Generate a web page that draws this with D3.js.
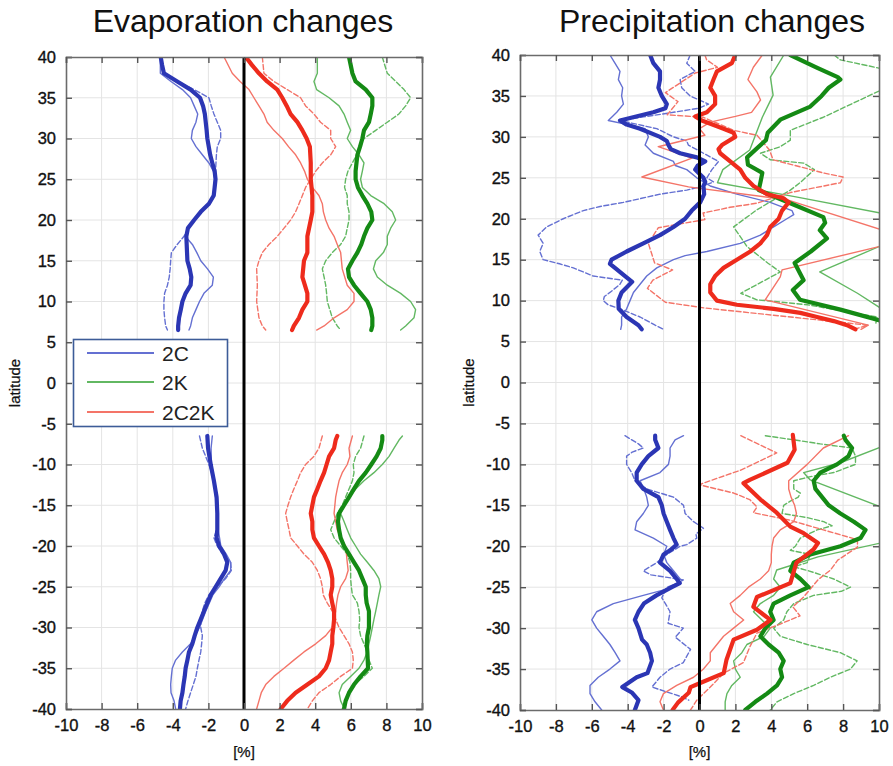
<!DOCTYPE html>
<html><head><meta charset="utf-8">
<script src="https://cdn.jsdelivr.net/npm/d3@7"></script>
<style>body{margin:0;background:#fff;} svg{display:block;font-family:"Liberation Sans",Arial,sans-serif;}</style>
</head><body><div id="chart"></div>
<script>
// ---------- tick labels ----------
const xTicks = [-10,-8,-6,-4,-2,0,2,4,6,8,10];
const yTicks = [40,35,30,25,20,15,10,5,0,-5,-10,-15,-20,-25,-30,-35,-40];
const panelTitles = ["Evaporation changes","Precipitation changes"];
const legendLabels = ["2C","2K","2C2K"];

// ---------- Evaporation: [latitude, % change] ----------
const E_2C_thick_N = [[40,-4.68],[39,-4.6],[38,-4.5],[37,-3.75],[36,-3.0],[35,-2.47],[34,-2.3],[33,-2.2],[31,-2.1],[30,-2.06],[28,-1.9],[27,-1.78],[26,-1.65],[25,-1.6],[24,-1.65],[23,-1.7],[22,-1.97],[21,-2.43],[20,-2.8],[19,-3.15],[18,-3.24],[17,-3.22],[16,-3.2],[15,-3.18],[14,-3.05],[13,-2.96],[12,-3.0],[11,-3.28],[10,-3.46],[9,-3.55],[8,-3.65],[7,-3.7],[6.5,-3.7]];
const E_2C_thin_N = [[40,-4.7],[38,-4.7],[37,-4.1],[36,-3.46],[35,-3.0],[34,-2.8],[33,-2.6],[32,-2.7],[31,-2.9],[30,-2.96],[29,-2.7],[28,-2.34],[27,-1.97],[26,-1.72],[25,-1.63],[24,-1.66],[23,-1.72],[22,-2.0],[21,-2.45],[20,-2.82],[19,-3.15],[18,-3.3],[17,-2.9],[16,-2.65],[15,-2.43],[14,-2.05],[13,-1.72],[12,-1.78],[11,-2.25],[10,-2.5],[9,-2.7],[8,-2.9],[7,-3.0],[6.5,-3.09]];
const E_2C_dash_N = [[40,-4.7],[38,-4.5],[37,-3.75],[36,-2.8],[35,-1.97],[34,-1.84],[33,-1.69],[32,-1.5],[31,-1.31],[30,-1.31],[29,-1.5],[28,-1.55],[26,-1.6],[25,-1.65],[23,-1.7],[22,-1.97],[21,-2.4],[20,-2.8],[19,-3.1],[18,-3.37],[17,-3.75],[16,-4.08],[15,-4.12],[14,-4.15],[13,-4.2],[12,-4.3],[11,-4.46],[10,-4.5],[9,-4.5],[8,-4.46],[7,-4.4],[6.5,-4.3]];
const E_2C_thick_S = [[-6.5,-2.06],[-8,-2.02],[-10,-1.87],[-12,-1.69],[-14,-1.54],[-16,-1.5],[-18,-1.5],[-19,-1.54],[-20,-1.4],[-21,-1.12],[-22,-0.94],[-23,-1.03],[-24,-1.31],[-25,-1.59],[-26,-1.87],[-27,-2.06],[-28,-2.25],[-29,-2.43],[-30,-2.62],[-31,-2.77],[-32,-2.9],[-33,-3.09],[-34,-3.18],[-35,-3.28],[-36,-3.33],[-37,-3.4],[-38,-3.46],[-39,-3.56],[-40,-3.6]];
const E_2C_thin_S = [[-6.5,-1.78],[-8,-1.85],[-10,-1.83],[-12,-1.65],[-14,-1.5],[-16,-1.45],[-18,-1.45],[-20,-1.3],[-21,-1.0],[-22,-0.75],[-23,-0.75],[-24,-1.1],[-25,-1.4],[-26,-1.75],[-28,-2.15],[-30,-2.5],[-31,-2.75],[-32,-3.0],[-33,-3.46],[-34,-3.84],[-35,-4.03],[-36,-4.08],[-37,-4.12],[-38,-4.1],[-39,-3.93],[-40,-3.84]];
const E_2C_dash_S = [[-6.5,-2.5],[-8,-2.34],[-10,-1.97],[-12,-1.69],[-14,-1.6],[-16,-1.5],[-18,-1.54],[-19,-1.69],[-20,-1.5],[-21,-1.2],[-22,-0.75],[-23,-0.71],[-24,-1.03],[-25,-1.5],[-26,-1.97],[-27,-2.2],[-28,-2.34],[-29,-2.43],[-30,-2.43],[-31,-2.34],[-32,-2.38],[-33,-2.43],[-34,-2.53],[-35,-2.62],[-36,-2.7],[-37,-2.85],[-38,-3.0],[-39,-3.15],[-40,-3.28]];
const E_2K_thick_N = [[40,5.9],[38,6.09],[37,6.27],[36,6.84],[35,7.21],[34,7.21],[33,7.12],[32,7.02],[31,6.74],[30,6.65],[29,6.52],[28,6.37],[26,6.27],[25,6.27],[24,6.4],[23,6.65],[22,6.93],[21,7.15],[20,7.21],[19,6.93],[18,6.74],[17,6.59],[16,6.37],[15,6.09],[14,5.84],[13,5.9],[12,6.18],[11,6.55],[10,6.93],[9,7.12],[8,7.21],[7,7.21],[6.5,7.15]];
const E_2K_thin_N = [[40,4.12],[38,4.12],[37,3.93],[36,4.08],[35,4.78],[34,5.34],[33,5.62],[32,5.8],[31,5.99],[30,5.8],[29,6.09],[28,6.46],[27,6.74],[26,6.65],[25,6.55],[24,6.65],[23,7.12],[22,7.87],[21,8.33],[20,8.52],[19,8.24],[18,8.05],[17,8.05],[16,7.83],[15,7.4],[14,7.27],[13,7.49],[12,8.05],[11,8.8],[10,9.36],[9,9.64],[8,9.55],[7,9.08],[6.5,8.8]];
const E_2K_dash_N = [[40,7.77],[38,8.05],[37,8.52],[36,8.99],[35,9.36],[34,9.08],[33,8.7],[32,8.05],[31,7.4],[30,6.74],[29,6.46],[28,6.33],[27,6.09],[26,5.84],[25,5.71],[24,5.65],[23,5.8],[22,5.8],[21,5.9],[20,5.9],[19,5.8],[18,5.71],[17,5.43],[16,4.96],[15,4.59],[14,4.4],[13,4.5],[12,4.59],[11,4.64],[10,4.68],[8,4.96],[7,5.24],[6.5,5.43]];
const E_2K_thick_S = [[-6.5,7.77],[-7,7.77],[-8,7.68],[-9,7.45],[-10,7.15],[-11,6.84],[-12,6.46],[-13,6.18],[-14,5.9],[-15,5.62],[-16,5.34],[-17,5.28],[-18,5.34],[-19,5.43],[-20,5.62],[-21,5.9],[-22,6.18],[-23,6.46],[-24,6.65],[-25,6.84],[-26,6.84],[-27,6.89],[-28,7.02],[-29,7.02],[-30,7.02],[-31,6.93],[-32,6.9],[-33,6.93],[-34,6.95],[-35,6.97],[-36,6.55],[-37,6.18],[-38,5.9],[-39,5.71],[-40,5.62]];
const E_2K_thin_S = [[-6.5,8.9],[-7,8.71],[-8,8.43],[-9,8.15],[-10,7.77],[-11,7.3],[-12,6.74],[-13,6.27],[-14,5.9],[-15,5.62],[-16,5.43],[-17,5.62],[-18,5.8],[-19,5.99],[-20,6.27],[-21,6.55],[-22,6.93],[-23,7.3],[-24,7.58],[-25,7.68],[-26,7.58],[-27,7.49],[-28,7.4],[-29,7.3],[-30,7.21],[-31,7.12],[-32,7.02],[-33,6.93],[-34,6.74],[-35,6.46],[-36,5.99],[-37,5.52],[-38,5.34],[-39,5.43],[-40,5.65]];
const E_2K_dash_S = [[-6.5,6.74],[-8,6.55],[-9,6.27],[-10,6.14],[-11,6.18],[-12,6.09],[-13,5.9],[-14,5.71],[-15,5.52],[-16,5.24],[-17,5.06],[-18,4.87],[-19,5.06],[-20,5.43],[-21,5.8],[-22,5.95],[-23,5.99],[-24,5.99],[-25,6.03],[-26,6.09],[-27,6.37],[-28,6.46],[-29,6.5],[-30,6.46],[-31,6.55],[-32,6.74],[-33,6.93],[-34,7.02],[-35,7.21],[-36,6.74],[-37,6.18],[-38,5.9],[-39,5.71],[-40,5.52]];
const E_2C2K_thick_N = [[40,0.1],[39,0.45],[38,0.84],[37,1.3],[36,1.87],[35,2.15],[34,2.4],[33,2.62],[32,3.0],[31,3.28],[30,3.52],[29,3.7],[27,3.75],[25,3.75],[23,3.84],[21,3.84],[20,3.75],[18,3.56],[16,3.56],[15,3.37],[13,3.28],[12,3.42],[11,3.56],[10,3.56],[9,3.28],[8,3.09],[7,2.8],[6.5,2.7]];
const E_2C2K_thin_N = [[40,-1.12],[38,-0.66],[37,-0.22],[36,0.28],[35,0.56],[34,0.84],[33,1.12],[32,1.3],[31,1.68],[30,2.15],[29,2.5],[28,2.9],[27,3.18],[26,3.4],[25,3.56],[24,3.84],[23,4.21],[22,4.4],[21,4.46],[20,4.59],[19,4.78],[18,5.06],[17,5.24],[16,5.43],[14,5.52],[12,5.8],[11,6.18],[10,6.18],[9,5.8],[8,5.06],[7,4.5],[6.5,4.08]];
const E_2C2K_dash_N = [[40,1.03],[38,1.12],[37,1.68],[36,2.43],[35,3.18],[34,3.46],[33,3.93],[32,4.3],[31,4.87],[30,4.87],[29,5.15],[28,4.87],[27,4.4],[26,4.03],[25,3.75],[24,3.46],[23,3.28],[22,3.09],[21,2.9],[20,2.62],[19,2.25],[18,1.87],[17,1.4],[16,1.03],[15,0.84],[14,0.71],[12,0.75],[10,0.71],[8,0.84],[7,1.03],[6.5,1.22]];
const E_2C2K_thick_S = [[-6.5,5.24],[-7,5.15],[-8,5.06],[-9,4.78],[-10,4.64],[-11,4.5],[-12,4.3],[-13,4.12],[-14,3.93],[-15,3.84],[-16,3.75],[-17,3.84],[-18,3.84],[-19,3.93],[-20,4.21],[-21,4.5],[-22,4.72],[-23,4.87],[-24,4.96],[-25,4.96],[-26,4.87],[-27,4.96],[-28,5.06],[-29,5.06],[-30,5.02],[-31,4.96],[-32,4.96],[-33,4.87],[-34,4.78],[-35,4.59],[-36,4.21],[-37,3.56],[-38,2.9],[-39,2.43],[-40,2.06]];
const E_2C2K_thin_S = [[-6.5,6.09],[-8,5.9],[-9,5.95],[-10,5.8],[-11,5.52],[-12,5.34],[-13,5.24],[-14,5.15],[-16,5.06],[-18,5.24],[-19,5.43],[-20,5.71],[-22,5.8],[-23,5.85],[-24,5.71],[-25,5.43],[-26,5.28],[-27,5.2],[-28,5.15],[-29,5.06],[-30,4.96],[-31,4.59],[-32,4.03],[-33,3.37],[-34,2.8],[-35,2.25],[-36,1.68],[-37,1.22],[-38,0.97],[-39,0.84],[-40,0.71]];
const E_2C2K_dash_S = [[-6.5,4.4],[-8,4.21],[-9,3.93],[-10,3.46],[-11,3.18],[-12,3.0],[-13,2.8],[-14,2.62],[-15,2.47],[-16,2.34],[-17,2.43],[-18,2.53],[-19,2.62],[-20,3.0],[-21,3.37],[-22,3.84],[-23,4.12],[-24,4.3],[-25,4.4],[-26,4.45],[-27,4.68],[-28,4.96],[-29,5.15],[-30,5.34],[-31,5.62],[-32,5.9],[-33,6.09],[-34,6.14],[-35,6.09],[-36,5.43],[-37,4.87],[-38,4.21],[-39,3.84],[-40,3.56]];

// ---------- Precipitation: [latitude, % change] ----------
const P_2C_thick_N = [[40,-2.75],[39,-2.57],[38,-2.2],[37,-2.2],[36,-2.29],[35,-2.1],[34,-1.82],[33.5,-1.9],[33,-2.57],[32,-4.43],[31.5,-4.06],[31,-3.31],[30,-2.2],[29.5,-1.82],[29,-1.73],[28.5,-1.6],[28,-1.08],[27.5,-0.15],[27,0.32],[26.5,-0.1],[26,-0.24],[25,0.22],[24.5,0.32],[24,0.22],[23,0.26],[22,0.04],[21,-0.43],[20,-0.8],[19,-1.45],[18,-2.2],[17,-3.13],[16,-4.06],[15,-4.9],[14.5,-4.99],[14,-4.71],[13,-4.15],[12.3,-3.75],[11,-4.34],[10,-4.52],[9,-4.5],[8,-4.06],[7,-3.4],[6.5,-3.22]];
const P_2C_thin_N = [[40,-4.99],[39,-4.71],[38,-4.43],[37,-4.52],[36,-4.28],[35,-4.34],[34,-4.24],[33,-4.61],[32,-5.08],[31.5,-4.0],[31,-3.03],[30,-2.85],[29,-3.03],[28,-2.57],[27,-1.45],[26.5,-1.35],[26,-0.71],[25,-0.15],[24,0.6],[23,2.08],[22,3.94],[21,5.15],[20.5,5.25],[20,4.87],[19,4.13],[18,3.39],[17,2.27],[16,0.41],[15.5,-0.8],[15,-1.45],[14,-2.38],[13,-2.94],[12,-3.31],[11,-3.68],[10,-3.87],[9,-4.06],[8,-4.34],[7,-4.34],[6.5,-4.39]];
const P_2C_dash_N = [[40,-0.52],[39,-0.71],[38,-0.24],[37,-1.08],[36,-0.99],[35,-0.52],[34,0.5],[33.5,-0.05],[33,-1.45],[32,-4.43],[31,-2.38],[30,-1.45],[29.5,-0.71],[29,-0.62],[28,0.22],[27,1.06],[26,0.69],[25,0.41],[24.5,0.78],[24,0.22],[23.5,-0.71],[23,-2.2],[22,-4.24],[21.5,-5.54],[21,-6.47],[20,-7.59],[19,-8.52],[18,-8.99],[17,-8.71],[16,-8.9],[15,-8.71],[14.5,-7.8],[14,-7.03],[13,-5.92],[12.5,-4.3],[12,-4.43],[11,-4.99],[10.5,-5.3],[10,-5.36],[9.5,-5.1],[9,-4.43],[8,-3.31],[7,-2.47],[6.5,-2.01]];
const P_2C_thick_S = [[-6.5,-2.47],[-7,-2.47],[-8,-2.29],[-9,-2.85],[-10,-3.22],[-11,-3.5],[-12,-3.5],[-13,-3.13],[-14,-2.29],[-15,-2.1],[-16,-2.0],[-17,-1.82],[-18,-1.64],[-19,-1.45],[-19.8,-1.27],[-20.5,-1.64],[-21,-2.0],[-22,-2.2],[-23,-1.64],[-24,-1.27],[-24.5,-1.1],[-25,-1.54],[-26,-2.4],[-27,-3.1],[-28,-3.4],[-29,-3.6],[-30,-3.4],[-31.4,-3.2],[-32,-2.94],[-33,-2.75],[-34,-2.65],[-35.5,-2.9],[-36,-3.5],[-37.2,-4.3],[-37.9,-3.75],[-38.8,-3.4],[-40,-3.6]];
const P_2C_thin_S = [[-6.5,-0.89],[-7,-1.36],[-8,-1.64],[-9,-1.64],[-10,-1.73],[-11,-2.2],[-12,-3.31],[-13,-3.1],[-14,-2.94],[-15,-2.85],[-16,-3.13],[-17,-3.5],[-18,-3.59],[-19,-2.57],[-20,-1.82],[-21,-2.0],[-22,-1.82],[-23,-1.45],[-24,-1.08],[-25,-1.4],[-26,-3.13],[-27,-4.8],[-28,-5.73],[-29,-6.0],[-30,-5.73],[-31,-5.36],[-32,-4.99],[-33,-4.7],[-34,-4.43],[-35,-4.99],[-36,-5.64],[-37,-6.1],[-38,-6.1],[-39,-5.82],[-40,-5.45]];
const P_2C_dash_S = [[-6.5,-4.15],[-7.5,-3.4],[-8,-3.13],[-8.5,-3.75],[-9,-4.06],[-10,-4.06],[-11,-3.78],[-12,-3.59],[-13,-2.94],[-14,-1.45],[-15,-0.89],[-16,-0.8],[-17,-0.33],[-17.8,0.22],[-18.5,-0.2],[-19,-0.15],[-19.8,-0.71],[-20,-1.08],[-21,-1.82],[-22,-2.38],[-23,-3.13],[-23.5,-2.7],[-24.1,-0.9],[-24.5,-1.2],[-25,-1.82],[-26.3,-2.1],[-27,-1.9],[-28,-1.64],[-29.4,-1.75],[-30,-0.9],[-31.1,-1.35],[-32.6,-0.5],[-34.2,-0.9],[-35,-1.64],[-36,-2.2],[-37.2,-2.65],[-38.4,-0.97],[-38.8,-0.6]];
const P_2K_thick_N = [[40,5.06],[38.5,6.5],[37.3,7.7],[37,7.85],[36,7.2],[35,6.8],[33.7,6.17],[32.1,4.5],[30.5,3.8],[29.6,3.7],[27.5,2.65],[26.6,2.7],[25.6,3.5],[24.5,3.4],[23.5,3.3],[21.9,5.06],[20.2,6.9],[19.5,7.0],[18.6,6.7],[17.6,7.1],[16,6.2],[14.6,5.3],[12.5,5.8],[11.3,5.2],[10.1,5.6],[8.9,7.85],[7.6,10.0],[6.8,11]];
const P_2K_thin_N = [[40,4.7],[37.3,3.95],[35.1,4.1],[32.4,3.5],[28.4,2.8],[26.0,1.3],[24.4,1.0],[22.7,5.3],[20.7,10.1],[19,12],[16.6,10.0],[13.5,6.7],[10.9,8.8],[9.2,10.0],[8,11]];
const P_2K_dash_N = [[40,7.5],[39.4,7.85],[38.4,10.0],[37,11],[35.6,10.0],[32.4,6.9],[30.8,5.06],[29.6,5.06],[28.8,4.5],[28.0,3.4],[27.2,3.95],[26.8,5.8],[26.0,6.4],[24.4,5.6],[23.5,5.06],[21.1,3.2],[19.0,1.9],[16.6,2.65],[14.6,3.8],[13.5,4.5],[10.9,2.3],[10.1,3.2],[9.5,6.0],[8.0,9.9],[7,9.8]];
const P_2K_thick_S = [[-6.5,8.04],[-7,8.13],[-8,8.5],[-9,8.3],[-10,7.66],[-11,6.73],[-12,6.36],[-13,6.46],[-14,6.83],[-15,7.2],[-16,7.85],[-17,8.6],[-18,9.25],[-19,8.97],[-20,7.85],[-21,6.18],[-22,5.25],[-23,5.06],[-24,5.62],[-25,6.08],[-26,5.06],[-27,4.13],[-28,3.94],[-29,4.13],[-30,3.67],[-31,3.39],[-32,3.85],[-33,4.41],[-34,4.69],[-35,4.5],[-36,4.6],[-37,4.32],[-38,3.76],[-39,3.11],[-40,2.55]];
const P_2K_thin_S = [[-6,10.5],[-7.9,10.1],[-9.8,7.85],[-11.0,5.8],[-11.9,6.17],[-15.2,10.1],[-17,12],[-19.6,10.1],[-21.3,6.6],[-22.9,4.3],[-24,4.13],[-25,4.5],[-26,4.13],[-27,3.39],[-28,3.01],[-29,3.48],[-30,3.94],[-31,3.6],[-32,2.64],[-33,2.36],[-34,1.9],[-35,2.0],[-36,2.27],[-37,1.8],[-38,1.53],[-39,1.43],[-40,1.43]];
const P_2K_dash_S = [[-6.5,3.67],[-7,5.25],[-7.5,6.73],[-8,8.5],[-9,8.69],[-10,8.69],[-11,7.48],[-11.5,6.18],[-12,5.25],[-13,5.25],[-13.5,5.62],[-14,5.5],[-14.5,5.06],[-15,4.69],[-16,4.6],[-16.5,6.0],[-17,6.92],[-17.5,7.39],[-18,6.55],[-19,5.62],[-20,5.34],[-20.5,5.06],[-21,6.18],[-22,6.0],[-22.5,5.25],[-23,6.08],[-24,7.48],[-25,8.41],[-25.5,7.9],[-26,6.36],[-27,5.25],[-28,4.87],[-29,4.69],[-30,4.13],[-31,4.5],[-32,6.0],[-33,7.85],[-34,8.78],[-35,8.41],[-36,7.29],[-37,6.36],[-38,5.25],[-39,4.32],[-40,3.94]];
const P_2C2K_thick_N = [[40,1.99],[39,1.8],[38,0.97],[37,0.78],[36,0.6],[35,0.87],[34,0.87],[33,0.41],[32.5,-0.24],[32,0.13],[31,1.34],[30.5,1.9],[30,1.99],[29,1.25],[28.5,1.06],[28,1.15],[27,1.71],[26,2.27],[25,2.55],[24,3.01],[23,3.76],[22.5,4.69],[22,4.97],[21,4.6],[20,4.41],[19,3.94],[18,3.76],[17,3.39],[16,2.83],[15,2.08],[14,1.34],[13,0.87],[12,0.6],[11,0.6],[10,0.97],[9.5,2.08],[9,4.13],[8.5,5.62],[8,6.55],[7.5,7.48],[7,8.22],[6.5,8.69]];
const P_2C2K_thin_N = [[40,3.5],[38.5,3.0],[37,2.7],[35.5,3.2],[34.5,3.4],[33,2.9],[32.5,2.0],[31.8,0.6],[31,0.0],[30.2,0.3],[28.8,-2.3],[27.4,-0.42],[25.1,-3.21],[23.9,-0.61],[22.3,4.9],[18.6,10.2],[17.5,10.8],[16.6,10.0],[13.75,4.6],[12.9,4.5],[10.1,3.66],[7.0,9.4],[6.5,9.0]];
const P_2C2K_dash_N = [[40,0.3],[39.4,0.4],[38.5,1.0],[37.8,-0.24],[35.4,-1.9],[34.3,-1.2],[32.7,-1.8],[32.4,0.2],[30.8,1.9],[30.2,3.2],[28.4,3.9],[27.2,4.1],[25.6,6.9],[25.1,8.0],[24.4,7.85],[23.2,5.06],[21.9,3.2],[21.4,1.7],[20.7,0.2],[19.9,0.3],[18.9,-2.3],[17.0,-2.85],[14.6,-2.5],[13.75,-1.5],[12.5,-2.6],[11.5,-2.9],[9.8,-1.9],[9.1,0.3],[7.0,9.4],[6.5,8.6]];
const P_2C2K_thick_S = [[-6.4,5.2],[-8.2,5.3],[-9.8,4.9],[-11.9,2.8],[-12.3,2.45],[-14.3,3.4],[-15.9,4.3],[-17.6,5.06],[-18.4,5.8],[-19.6,6.6],[-20.4,6.35],[-22,5.4],[-24.5,5.06],[-26.2,3.2],[-27.4,3.0],[-29.0,3.95],[-30.2,3.2],[-31.4,1.9],[-33.9,1.5],[-35.5,1.35],[-36.7,0.04],[-37.2,-0.5],[-37.9,-0.6],[-39.1,-1.2],[-40,-1.5]];
const P_2C2K_thin_S = [[-6.5,8.3],[-8,6.9],[-10,6.0],[-12,4.97],[-13,4.97],[-14,5.1],[-15,5.3],[-16,5.4],[-17,5.25],[-18,4.5],[-19,4.13],[-20,4.04],[-21,4.0],[-22,4.0],[-23,3.85],[-24,3.39],[-25,2.73],[-26,2.27],[-27,1.71],[-28,1.9],[-29,2.46],[-30,1.9],[-31,1.34],[-32,0.97],[-33,0.6],[-34,0.6],[-35,0.22],[-36,-0.33],[-37,-1.27],[-38,-2.01],[-39,-2.2],[-40,-2.01]];
const P_2C2K_dash_S = [[-6.5,2.3],[-8.6,4.3],[-10.7,2.3],[-12.3,0.2],[-12.5,0.0],[-13.5,1.9],[-14.3,2.8],[-15.2,3.2],[-15.9,3.0],[-16.8,5.0],[-18,6.9],[-19.2,8.8],[-20.1,8.8],[-21.7,7.7],[-22.9,7.3],[-24.1,6.6],[-26.2,5.8],[-27.4,5.2],[-28.5,5.6],[-29.5,4.5],[-30.6,3.2],[-32.3,2.8],[-34.2,2.45],[-35.5,1.35],[-37.2,0.6],[-38.8,-0.15],[-40,-0.5]];

// ---------- styling ----------
const COL = {
  "2C":   {thick:"#2b36b4", thin:"#6470d2"},
  "2K":   {thick:"#148a14", thin:"#62b862"},
  "2C2K": {thick:"#ee2b1c", thin:"#f47468"}
};

const W = 893, H = 766;
const svg = d3.select("#chart").append("svg").attr("width", W).attr("height", H);

const panels = [
  {title: panelTitles[0], x0: 66, x1: 422, y0: 57, y1: 709, tcx: 243,
   series: [
     ["2C","thin",E_2C_thin_N],["2C","thin",E_2C_thin_S],["2C","dash",E_2C_dash_N],["2C","dash",E_2C_dash_S],
     ["2K","thin",E_2K_thin_N],["2K","thin",E_2K_thin_S],["2K","dash",E_2K_dash_N],["2K","dash",E_2K_dash_S],
     ["2C2K","thin",E_2C2K_thin_N],["2C2K","thin",E_2C2K_thin_S],["2C2K","dash",E_2C2K_dash_N],["2C2K","dash",E_2C2K_dash_S],
     ["2C","thick",E_2C_thick_N],["2C","thick",E_2C_thick_S],
     ["2K","thick",E_2K_thick_N],["2K","thick",E_2K_thick_S],
     ["2C2K","thick",E_2C2K_thick_N],["2C2K","thick",E_2C2K_thick_S]
   ], legend: true},
  {title: panelTitles[1], x0: 520, x1: 879, y0: 55, y1: 710, tcx: 712,
   series: [
     ["2C","thin",P_2C_thin_N],["2C","thin",P_2C_thin_S],["2C","dash",P_2C_dash_N],["2C","dash",P_2C_dash_S],
     ["2K","thin",P_2K_thin_N],["2K","thin",P_2K_thin_S],["2K","dash",P_2K_dash_N],["2K","dash",P_2K_dash_S],
     ["2C2K","thin",P_2C2K_thin_N],["2C2K","thin",P_2C2K_thin_S],["2C2K","dash",P_2C2K_dash_N],["2C2K","dash",P_2C2K_dash_S],
     ["2C","thick",P_2C_thick_N],["2C","thick",P_2C_thick_S],
     ["2K","thick",P_2K_thick_N],["2K","thick",P_2K_thick_S],
     ["2C2K","thick",P_2C2K_thick_N],["2C2K","thick",P_2C2K_thick_S]
   ], legend: false}
];

const fmt = d => String(d);   // plain hyphen-minus like the original

panels.forEach((p, i) => {
  const x = d3.scaleLinear().domain([-10, 10]).range([p.x0, p.x1]);
  const y = d3.scaleLinear().domain([-40, 40]).range([p.y1, p.y0]);
  const g = svg.append("g");

  // title
  svg.append("text").attr("x", p.tcx).attr("y", 32).attr("text-anchor", "middle")
    .attr("font-size", 32).attr("fill", "#111").text(p.title);

  // grid
  g.append("g").selectAll("line").data(xTicks.filter(t => t > -10 && t < 10)).join("line")
    .attr("x1", d => x(d)).attr("x2", d => x(d)).attr("y1", p.y0).attr("y2", p.y1)
    .attr("stroke", "#e4e4e4").attr("stroke-width", 1);
  g.append("g").selectAll("line").data(yTicks.filter(t => t > -40 && t < 40)).join("line")
    .attr("y1", d => y(d)).attr("y2", d => y(d)).attr("x1", p.x0).attr("x2", p.x1)
    .attr("stroke", "#e4e4e4").attr("stroke-width", 1);

  // clip
  const cid = "clip" + i;
  svg.append("clipPath").attr("id", cid).append("rect")
    .attr("x", p.x0).attr("y", p.y0).attr("width", p.x1 - p.x0).attr("height", p.y1 - p.y0);

  const line = d3.line().x(d => x(d[1])).y(d => y(d[0]));
  const lg = g.append("g").attr("clip-path", `url(#${cid})`);
  p.series.forEach(([k, style, data]) => {
    lg.append("path").datum(data).attr("d", line).attr("fill", "none")
      .attr("stroke", style === "thick" ? COL[k].thick : COL[k].thin)
      .attr("stroke-width", style === "thick" ? 4.2 : 1.4)
      .attr("stroke-dasharray", style === "dash" ? "5,2.5" : null)
      .attr("stroke-linejoin", "round").attr("stroke-linecap", "round");
  });

  // zero line
  g.append("line").attr("x1", x(0)).attr("x2", x(0)).attr("y1", p.y0).attr("y2", p.y1)
    .attr("stroke", "#000").attr("stroke-width", 3);

  // axes (ticks inward)
  const axB = d3.axisBottom(x).tickValues(xTicks).tickSize(-6).tickPadding(10).tickFormat(fmt);
  const axL = d3.axisLeft(y).tickValues(yTicks).tickSize(-6).tickPadding(10).tickFormat(fmt);
  const axT = d3.axisTop(x).tickValues(xTicks).tickSize(-6).tickFormat("");
  const axR = d3.axisRight(y).tickValues(yTicks).tickSize(-6).tickFormat("");
  const styleAx = sel => {
    sel.select(".domain").attr("stroke", "#6b6b6b").attr("stroke-width", 1.6);
    sel.selectAll(".tick line").attr("stroke", "#555").attr("stroke-width", 1.4);
    sel.selectAll(".tick text").attr("font-size", 16.5).attr("fill", "#111")
      .attr("stroke", "#111").attr("stroke-width", 0.35)
      .attr("font-family", "'Liberation Sans',Arial,sans-serif");
  };
  g.append("g").attr("transform", `translate(0,${p.y1})`).call(axB).call(styleAx);
  g.append("g").attr("transform", `translate(${p.x0},0)`).call(axL).call(styleAx);
  g.append("g").attr("transform", `translate(0,${p.y0})`).call(axT).call(styleAx);
  g.append("g").attr("transform", `translate(${p.x1},0)`).call(axR).call(styleAx);

  // axis labels
  svg.append("text").attr("transform", `translate(${p.x0 - 46},${(p.y0 + p.y1) / 2}) rotate(-90)`)
    .attr("text-anchor", "middle").attr("font-size", 15).attr("fill", "#111")
    .attr("stroke", "#111").attr("stroke-width", 0.25).text("latitude");
  svg.append("text").attr("x", x(0)).attr("y", 757).attr("text-anchor", "middle")
    .attr("font-size", 15).attr("fill", "#111").attr("stroke", "#111").attr("stroke-width", 0.25).text("[%]");

  if (p.legend) {
    const lgd = svg.append("g");
    lgd.append("rect").attr("x", 73.5).attr("y", 339.5).attr("width", 154).attr("height", 87)
      .attr("fill", "#fff").attr("stroke", "#3d5c98").attr("stroke-width", 1.6);
    const ly = [353, 382, 412];
    legendLabels.forEach((k, j) => {
      lgd.append("line").attr("x1", 87).attr("x2", 154).attr("y1", ly[j]).attr("y2", ly[j])
        .attr("stroke", COL[k].thin).attr("stroke-width", 2);
      lgd.append("text").attr("x", 162).attr("y", ly[j] + 7.5).attr("font-size", 21)
        .attr("fill", "#222").text(k);
    });
  }
});
</script>
</body></html>
